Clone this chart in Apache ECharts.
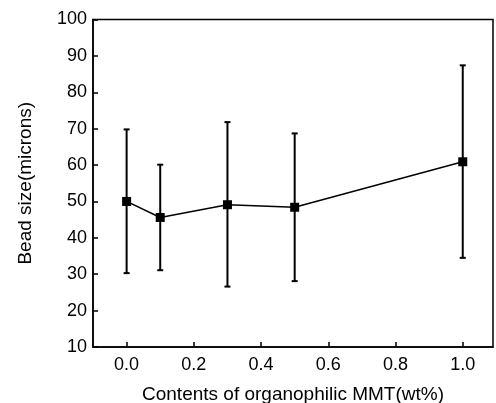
<!DOCTYPE html>
<html><head><meta charset="utf-8">
<script src="https://cdn.jsdelivr.net/npm/echarts@6/dist/echarts.min.js"></script>
<style>html,body{margin:0;padding:0;background:#fff}#c{width:496px;height:403px}</style>
</head><body><div id="c"></div>
<script>
const xValues = [0.0, 0.1, 0.3, 0.5, 1.0];
const beadSize = [50.0, 45.6, 49.1, 48.4, 60.9];
const errLow = [30.3, 31.1, 26.6, 28.1, 34.5];
const errHigh = [69.8, 60.1, 71.8, 68.7, 87.4];
const xTicks = [0.0, 0.2, 0.4, 0.6, 0.8, 1.0];
const yTicks = [10, 20, 30, 40, 50, 60, 70, 80, 90, 100];

const FONT = 'Liberation Sans';
const chart = echarts.init(document.getElementById('c'), null, {renderer: 'canvas'});
const lineData = xValues.map((x, i) => [x, beadSize[i]]);
const errData = xValues.map((x, i) => [x, errLow[i], errHigh[i]]);

chart.setOption({
  animation: false,
  backgroundColor: '#fff',
  grid: {left: 93, right: 3, top: 19.5, bottom: 56, show: true, borderColor: '#000', borderWidth: 1.5, containLabel: false, outerBoundsMode: 'none'},
  xAxis: {
    type: 'value', min: -0.1, max: 1.09,
    name: 'Contents of organophilic MMT(wt%)', nameLocation: 'middle', nameGap: 38,
    nameTextStyle: {fontFamily: FONT, fontSize: 19, color: '#000'},
    axisLine: {onZero: false, lineStyle: {color: '#000', width: 1.5}},
    axisTick: {inside: true, length: 5, lineStyle: {color: '#000', width: 1.5}, customValues: xTicks},
    axisLabel: {customValues: xTicks, formatter: v => Number(v).toFixed(1), fontFamily: FONT, fontSize: 18, color: '#000', margin: 9},
    splitLine: {show: false}
  },
  yAxis: {
    type: 'value', min: 10, max: 100, interval: 10,
    name: 'Bead size(microns)', nameLocation: 'middle', nameGap: 58,
    nameTextStyle: {fontFamily: FONT, fontSize: 19, color: '#000'},
    axisLine: {onZero: false, lineStyle: {color: '#000', width: 1.5}},
    axisTick: {inside: true, length: 5, lineStyle: {color: '#000', width: 1.5}},
    axisLabel: {fontFamily: FONT, fontSize: 18, color: '#000', margin: 6},
    splitLine: {show: false}
  },
  series: [
    {
      type: 'custom',
      data: errData,
      encode: {x: 0, y: [1, 2]},
      z: 3,
      renderItem: function (params, api) {
        const x = api.value(0);
        const lo = api.coord([x, api.value(1)]);
        const hi = api.coord([x, api.value(2)]);
        const hw = 3;
        const st = {stroke: '#000', lineWidth: 2};
        return {type: 'group', children: [
          {type: 'line', shape: {x1: lo[0], y1: lo[1], x2: hi[0], y2: hi[1]}, style: st},
          {type: 'line', shape: {x1: lo[0]-hw, y1: lo[1], x2: lo[0]+hw, y2: lo[1]}, style: st},
          {type: 'line', shape: {x1: hi[0]-hw, y1: hi[1], x2: hi[0]+hw, y2: hi[1]}, style: st}
        ]};
      }
    },
    {
      type: 'line',
      data: lineData,
      symbol: 'rect', symbolSize: 9,
      lineStyle: {color: '#000', width: 1.5},
      itemStyle: {color: '#000'},
      z: 4
    }
  ]
});
</script>
</body></html>
